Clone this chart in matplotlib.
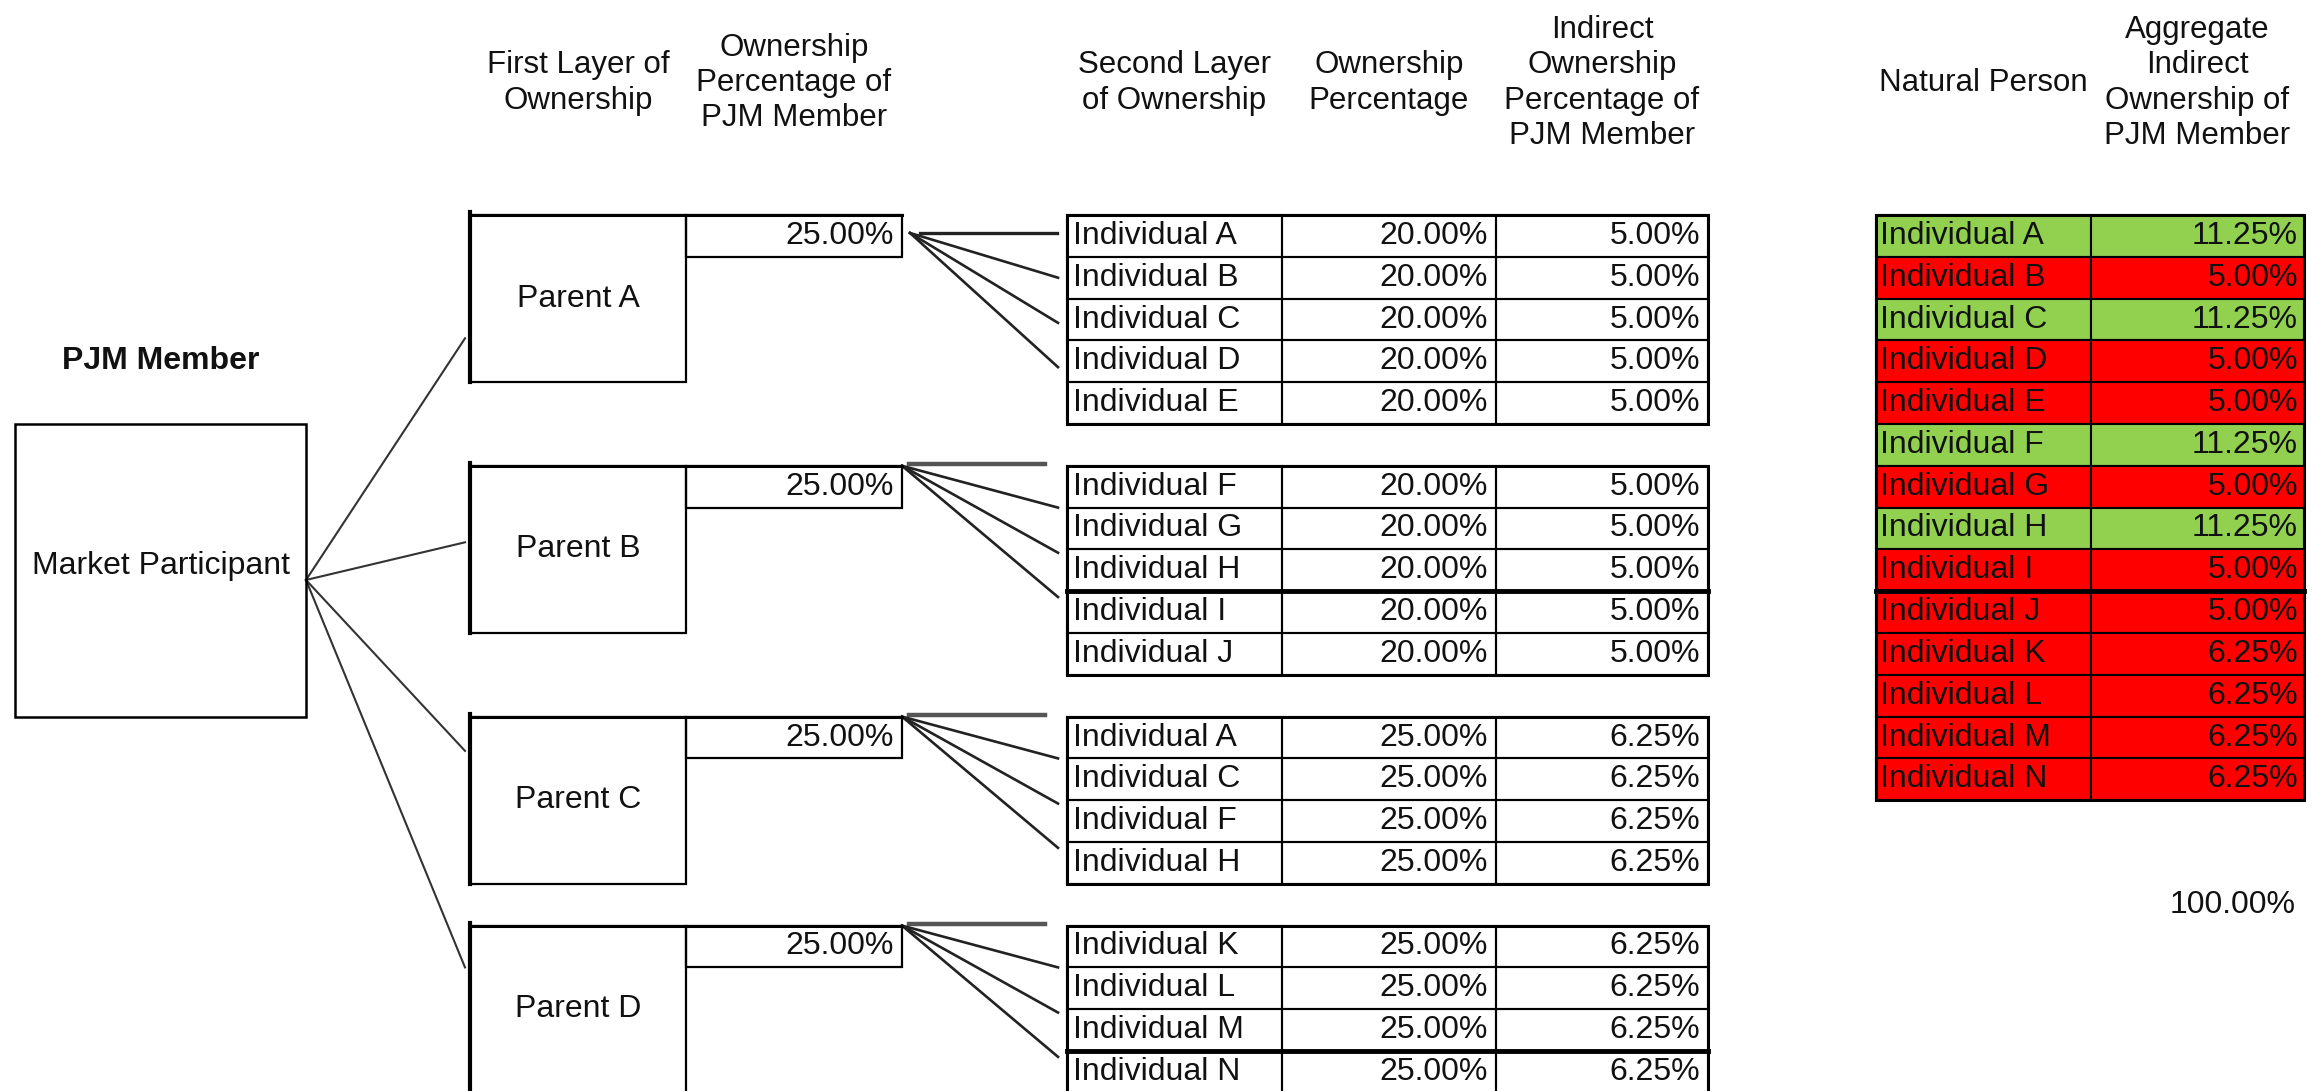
import matplotlib
matplotlib.use('Agg')
import matplotlib.pyplot as plt
from matplotlib.patches import Rectangle

plt.rcParams['font.family'] = ['Liberation Sans', 'DejaVu Sans']

# ---- data ----
member_name = 'Market Participant'
parents = ['Parent A', 'Parent B', 'Parent C', 'Parent D']
first_pct = [25.00, 25.00, 25.00, 25.00]

second_names = [
    ['Individual A', 'Individual B', 'Individual C', 'Individual D', 'Individual E'],
    ['Individual F', 'Individual G', 'Individual H', 'Individual I', 'Individual J'],
    ['Individual A', 'Individual C', 'Individual F', 'Individual H'],
    ['Individual K', 'Individual L', 'Individual M', 'Individual N'],
]
second_pct = [
    [20.00, 20.00, 20.00, 20.00, 20.00],
    [20.00, 20.00, 20.00, 20.00, 20.00],
    [25.00, 25.00, 25.00, 25.00],
    [25.00, 25.00, 25.00, 25.00],
]
indirect_pct = [
    [5.00, 5.00, 5.00, 5.00, 5.00],
    [5.00, 5.00, 5.00, 5.00, 5.00],
    [6.25, 6.25, 6.25, 6.25],
    [6.25, 6.25, 6.25, 6.25],
]

persons = ['Individual A', 'Individual B', 'Individual C', 'Individual D',
           'Individual E', 'Individual F', 'Individual G', 'Individual H',
           'Individual I', 'Individual J', 'Individual K', 'Individual L',
           'Individual M', 'Individual N']
aggregate = [11.25, 5.00, 11.25, 5.00, 5.00, 11.25, 5.00, 11.25,
             5.00, 5.00, 6.25, 6.25, 6.25, 6.25]

headers = [
    'First Layer of\nOwnership',
    'Ownership\nPercentage of\nPJM Member',
    'Second Layer\nof Ownership',
    'Ownership\nPercentage',
    'Indirect\nOwnership\nPercentage of\nPJM Member',
    'Natural Person',
    'Aggregate\nIndirect\nOwnership of\nPJM Member',
]

# ---- sheet layout (pixels) ----
W, H = 2318, 1091
TOP = 215          # top of first data row
RH = 41.8          # row height
group_rows = [0, 6, 12, 17]
thick_rows = [9, 20]

mp_x = (15, 306)
par_x = (470, 686)
p1_x = (686, 902)
tab_x = [1067, 1282, 1496, 1708]
nat_x = [1876, 2091, 2304]

GREEN = '#92D050'
RED = '#FF0000'
FS = 23
INK = '#111111'


def ry(r):
    return TOP + r * RH


def pct(v):
    return f'{v:.2f}%'


fig = plt.figure(figsize=(W / 100, H / 100), dpi=100)
ax = fig.add_axes([0, 0, 1, 1])
ax.set_xlim(0, W)
ax.set_ylim(H, 0)
ax.axis('off')


def box(x0, x1, y0, y1, lw=1.5, fc='none', z=2):
    ax.add_patch(Rectangle((x0, y0), x1 - x0, y1 - y0, fc=fc, ec='black',
                           lw=lw, zorder=z))


# headers
head_x = [sum(par_x) / 2, sum(p1_x) / 2,
          (tab_x[0] + tab_x[1]) / 2, (tab_x[1] + tab_x[2]) / 2,
          (tab_x[2] + tab_x[3]) / 2,
          (nat_x[0] + nat_x[1]) / 2, (nat_x[1] + nat_x[2]) / 2]
for hx, txt in zip(head_x, headers):
    ax.text(hx, 83, txt, ha='center', va='center', fontsize=FS - 0.5,
            linespacing=1.22, color=INK)

# PJM member box
ax.text(sum(mp_x) / 2, ry(3.5), 'PJM Member', ha='center', va='center',
        fontsize=FS, fontweight='bold', color=INK)
box(mp_x[0], mp_x[1], ry(5), ry(12), lw=1.8)
ax.text(sum(mp_x) / 2, ry(8.4), member_name, ha='center', va='center',
        fontsize=FS, color=INK)

# lines from member to parents
mp_origin = (mp_x[1], 580)
mp_end_off = [2.95, 1.83, 0.82, 1.0]
for g, r0 in enumerate(group_rows):
    ax.plot([mp_origin[0], 465], [mp_origin[1], ry(r0 + mp_end_off[g])],
            color='#333333', lw=1.5, zorder=1)

# parents + first layer percentage cells
for g, r0 in enumerate(group_rows):
    box(par_x[0], par_x[1], ry(r0), ry(r0 + 4), lw=1.6)
    ax.plot([par_x[0], par_x[0]], [ry(r0) - 3, ry(r0 + 4)], color='black',
            lw=3, zorder=3)
    ax.plot([par_x[0], p1_x[1]], [ry(r0), ry(r0)], color='black', lw=2.2,
            zorder=3)
    ax.text(sum(par_x) / 2, ry(r0 + 2), parents[g], ha='center',
            va='center', fontsize=FS, color=INK)
    box(p1_x[0], p1_x[1], ry(r0), ry(r0 + 1), lw=1.6)
    ax.text(p1_x[1] - 8, ry(r0 + 0.5), pct(first_pct[g]), ha='right',
            va='center', fontsize=FS, color=INK)

# fan lines to the second layer
for g, r0 in enumerate(group_rows):
    if g == 0:
        ox, oy = 910, ry(r0 + 0.43)
        ends = [1.5, 2.58, 3.64]
        ax.plot([ox + 10, 1057], [oy, oy], color='#222222', lw=2.4, zorder=1)
    else:
        ox, oy = 902, ry(r0)
        ends = [1.0, 2.08, 3.14]
        ax.plot([ox + 7, 1045], [oy - 2, oy - 2], color='#555555', lw=3.2,
                zorder=1)
    for e in ends:
        ax.plot([ox, 1058], [oy, ry(r0 + e)], color='#222222', lw=1.9,
                zorder=1)

# second layer tables
for g, r0 in enumerate(group_rows):
    n = len(second_names[g])
    for i in range(n):
        y0, y1 = ry(r0 + i), ry(r0 + i + 1)
        for c in range(3):
            box(tab_x[c], tab_x[c + 1], y0, y1, lw=1.5)
        ax.text(tab_x[0] + 6, (y0 + y1) / 2, second_names[g][i], ha='left',
                va='center', fontsize=FS, color=INK)
        ax.text(tab_x[2] - 8, (y0 + y1) / 2, pct(second_pct[g][i]),
                ha='right', va='center', fontsize=FS, color=INK)
        ax.text(tab_x[3] - 8, (y0 + y1) / 2, pct(indirect_pct[g][i]),
                ha='right', va='center', fontsize=FS, color=INK)
    box(tab_x[0], tab_x[3], ry(r0), ry(r0 + n), lw=2.2, z=3)
    for tr in thick_rows:
        if r0 < tr < r0 + n:
            ax.plot([tab_x[0], tab_x[3]], [ry(tr), ry(tr)], color='black',
                    lw=3.5, zorder=4)

# natural person table
for i, (name, v) in enumerate(zip(persons, aggregate)):
    y0, y1 = ry(i), ry(i + 1)
    fc = GREEN if v > 10 else RED
    for c in range(2):
        box(nat_x[c], nat_x[c + 1], y0, y1, lw=1.5, fc=fc)
    ax.text(nat_x[0] + 4, (y0 + y1) / 2, name, ha='left', va='center',
            fontsize=FS, color=INK, zorder=5)
    ax.text(nat_x[2] - 6, (y0 + y1) / 2, pct(v), ha='right', va='center',
            fontsize=FS, color=INK, zorder=5)
box(nat_x[0], nat_x[2], ry(0), ry(len(persons)), lw=2.2, z=3)
for tr in thick_rows:
    if tr < len(persons):
        ax.plot([nat_x[0], nat_x[2]], [ry(tr), ry(tr)], color='black',
                lw=3.5, zorder=4)

ax.text(nat_x[2] - 8, ry(16.5), pct(sum(aggregate)), ha='right',
        va='center', fontsize=FS, color=INK)

fig.savefig('out.png', dpi=100, facecolor='white')
